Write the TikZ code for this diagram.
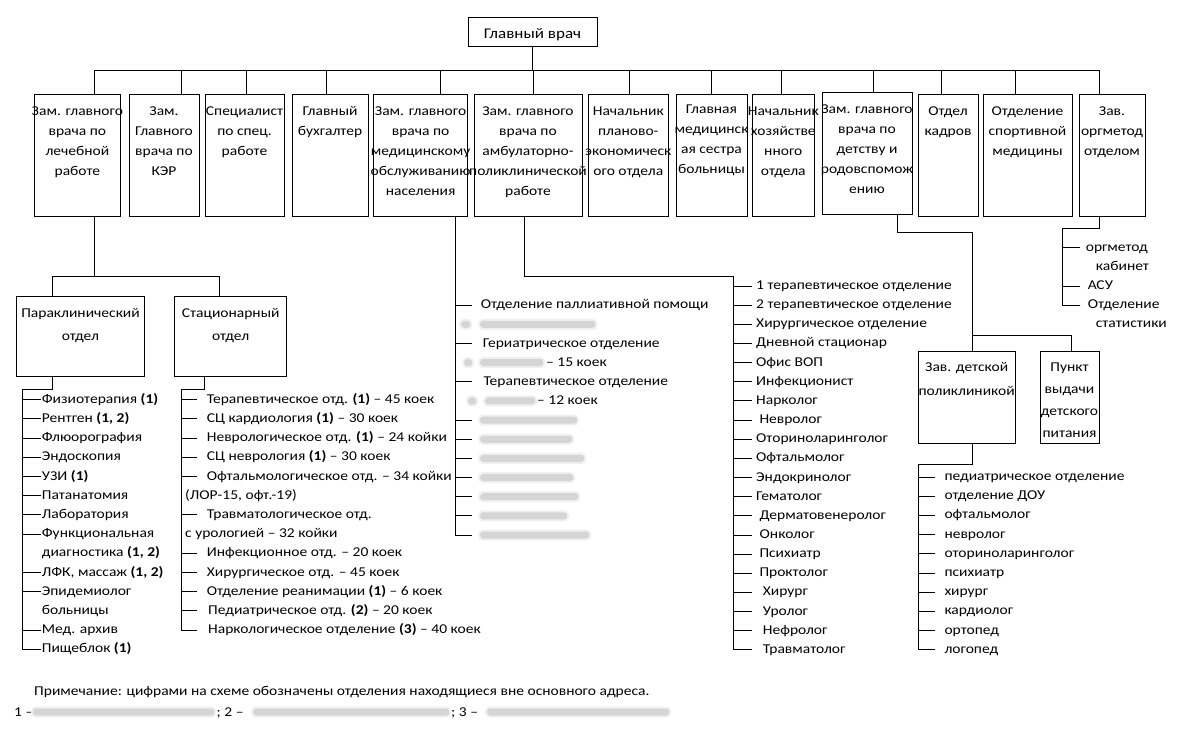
\documentclass[tikz,border=0pt]{standalone}
\usepackage{fontspec}
\setmainfont{Carlito}[FakeStretch=1.15]
\newcommand\bxf[1]{\fontsize{13.5}{#1}\selectfont}
\tikzset{
  conn/.style={draw=black, line width=0.9pt, line cap=rect},
  orgbox/.style={draw=black, line width=0.9pt, rectangle, inner sep=0pt},
  boxtext/.style={anchor=north, inner sep=0pt, align=center, text=black},
  item/.style={anchor=base west, inner sep=0pt, font=\bxf{16}, text=black},
  blurbox/.style={fill=gray!33, rounded corners=3pt, inner sep=0pt, minimum height=7pt,
    preaction={draw=gray!12, line width=4pt, rounded corners=4pt}},
}
% name, x1, y1, x2, y2, first baseline, line skip, text
\newcommand\obox[8]{%
  \node[orgbox, minimum width={(#4-#2)*1pt}, minimum height={(#5-#3)*1pt}] (#1) at ({(#2+#4)/2},{(#3+#5)/2}) {};
  \node[boxtext, font=\bxf{#7}] (#1t) at ({(#2+#4)/2},{#6-12}) {\rule{0pt}{12pt}#8};}
% name, spineX, tickEndX, textX, tickY, text
\newcommand\trow[6]{%
  \node[item, inner xsep={(#4-#3)*1pt}] (#1) at (#3,{#5+3.5}) {#6};
  \draw[conn] (#2,#5) -- (#1.west |- 0,#5);}
% name, textX, tickY, text
\newcommand\prow[4]{\node[item] (#1) at (#2,{#3+3.5}) {#4};}
% name, x1, x2, y
\newcommand\bnode[4]{\node[blurbox, minimum width={(#3-#2)*1pt}, anchor=west] (#1) at (#2,#4) {};}
\begin{document}
\begin{tikzpicture}[x=1pt,y=-1pt]
\useasboundingbox (0,0) rectangle (1194,739);
\fill[white] (0,0) rectangle (1194,739);

% ---- top level ----
\obox{gv}{468}{17.3}{597}{46.7}{38}{20}{\fontsize{14.8}{20}\selectfont Главный врач}
\obox{b1}{34.3}{94}{120.5}{216}{115}{20}{Зам. главного\\врача по\\лечебной\\работе}
\obox{b2}{129}{94}{199}{216}{115}{20}{Зам.\\Главного\\врача по\\КЭР}
\obox{b3}{205}{94}{284}{216}{115}{20}{Специалист\\по спец.\\работе}
\obox{b4}{292}{94}{368}{216}{115}{20}{Главный\\бухгалтер}
\obox{b5}{373.5}{94}{467.7}{216}{115}{20}{Зам. главного\\врача по\\медицинскому\\обслуживанию\\населения}
\obox{b6}{474}{94}{582}{216}{115}{20}{Зам. главного\\врача по\\амбулаторно-\\поликлинической\\работе}
\obox{b7}{588}{94}{668.6}{216}{115}{20}{Начальник\\планово-\\экономическ\\ого отдела}
\obox{b8}{676}{94}{747}{216}{113.5}{20}{Главная\\медицинск\\ая сестра\\больницы}
\obox{b9}{752.6}{94}{814}{216}{115}{20}{Начальник\\хозяйстве\\нного\\отдела}
\obox{b10}{822}{92.3}{912}{214}{113.5}{20}{Зам. главного\\врача по\\детству и\\родовспомож\\ению}
\obox{b11}{918}{94}{978}{216}{115}{20}{Отдел\\кадров}
\obox{b12}{983}{94}{1072}{216}{115}{20}{Отделение\\спортивной\\медицины}
\obox{b13}{1079}{94}{1145}{216}{115}{20}{Зав.\\оргметод\\отделом}

\coordinate (busL) at (94,70.3);
\coordinate (busR) at (1099,70.3);
\draw[conn] (busL) -- (busR);
\draw[conn] (gv.south) -- (gv.south |- busL);
\foreach \b/\x in {b1/94, b2/181, b3/246, b4/326, b5/440, b6/533, b7/629.7, b8/711.7,
  b9/781, b10/873.5, b11/941, b12/1015, b13/1099}
  \draw[conn] (\b.north -| \x,0) -- (\x,70.3);

% ---- second level ----
\obox{para}{16.7}{296.7}{144.3}{376}{317.3}{22.7}{Параклинический\\отдел}
\obox{stac}{174.7}{296.7}{286.7}{376}{317.3}{22.7}{Стационарный\\отдел}
\obox{dp}{918.3}{351.7}{1015}{443.3}{371.7}{23.3}{Зав. детской\\поликлиникой}
\obox{pv}{1040}{351.7}{1099}{443.3}{371.7}{21.7}{Пункт\\выдачи\\детского\\питания}

\draw[conn] (b1.south -| 94,0) -- (94,276);
\draw[conn] (para.north -| 52.7,0) -- (52.7,276) -| (stac.north -| 219,0);

% ---- Параклинический list ----
\trow{pa0}{22.7}{40.5}{41.7}{399.7}{Физиотерапия \textbf{(1)}}
\trow{pa1}{22.7}{40.5}{41.7}{418.9}{Рентген \textbf{(1, 2)}}
\trow{pa2}{22.7}{40.5}{41.7}{438.1}{Флюорография}
\trow{pa3}{22.7}{40.5}{41.7}{457.3}{Эндоскопия}
\trow{pa4}{22.7}{40.5}{41.7}{476.5}{УЗИ \textbf{(1)}}
\trow{pa5}{22.7}{40.5}{41.7}{495.7}{Патанатомия}
\trow{pa6}{22.7}{40.5}{41.7}{514.9}{Лаборатория}
\trow{pa7}{22.7}{40.5}{41.7}{534.1}{Функциональная}
\prow{pa8}{41.7}{553.3}{диагностика \textbf{(1, 2)}}
\trow{pa9}{22.7}{40.5}{41.7}{572.5}{ЛФК, массаж \textbf{(1, 2)}}
\trow{pa10}{22.7}{40.5}{41.7}{591.7}{Эпидемиолог}
\prow{pa11}{41.7}{610.9}{больницы}
\trow{pa12}{22.7}{40.5}{41.7}{630.1}{Мед. архив}
\trow{pa13}{22.7}{40.5}{41.7}{649.3}{Пищеблок \textbf{(1)}}
\draw[conn] (para.south -| 52.7,0) |- (22.7,389.3) |- (pa13.west |- 0,649.3);

% ---- Стационарный list ----
\trow{st0}{181.7}{197}{206.7}{399.7}{Терапевтическое отд. \textbf{(1)} – 45 коек}
\trow{st1}{181.7}{197}{206.7}{418.9}{СЦ кардиология \textbf{(1)} – 30 коек}
\trow{st2}{181.7}{197}{206.7}{438.1}{Неврологическое отд. \textbf{(1)} – 24 койки}
\trow{st3}{181.7}{197}{206.7}{457.3}{СЦ неврология \textbf{(1)} – 30 коек}
\trow{st4}{181.7}{197}{206.7}{476.5}{Офтальмологическое отд. – 34 койки}
\prow{st5}{185}{495.7}{(ЛОР-15, офт.-19)}
\trow{st6}{181.7}{197}{206.7}{514.9}{Травматологическое отд.}
\prow{st7}{185}{534.1}{с урологией – 32 койки}
\trow{st8}{181.7}{197}{206.7}{553.3}{Инфекционное отд. – 20 коек}
\trow{st9}{181.7}{197}{206.7}{572.5}{Хирургическое отд. – 45 коек}
\trow{st10}{181.7}{197}{206.7}{591.7}{Отделение реанимации \textbf{(1)} – 6 коек}
\trow{st11}{181.7}{197}{208}{610.9}{Педиатрическое отд. \textbf{(2)} – 20 коек}
\trow{st12}{181.7}{197}{208}{630.1}{Наркологическое отделение \textbf{(3)} – 40 коек}
\draw[conn] (stac.south -| 204.7,0) |- (181.7,389.3) |- (st12.west |- 0,630.1);

% ---- медицинское обслуживание list ----
\trow{m0}{455}{471.7}{480.7}{305.2}{Отделение паллиативной помощи}
\bnode{m1a}{461}{470}{324.35}
\bnode{m1}{480}{595}{324.35}
\trow{m2}{455}{471.7}{482.7}{343.5}{Гериатрическое отделение}
\bnode{m3a}{464}{472}{362.65}
\bnode{m3b}{480}{543}{362.65}
\prow{m3}{546}{362.65}{– 15 коек}
\trow{m4}{455}{471.7}{483.3}{381.8}{Терапевтическое отделение}
\bnode{m5a}{468}{476}{400.95}
\bnode{m5b}{485}{535}{400.95}
\prow{m5}{537}{400.95}{– 12 коек}
\foreach \n/\xe/\y in {6/577/420.1, 7/572/439.25, 8/584/458.4, 9/573/477.55,
  10/578/496.7, 11/567/515.85, 12/589/535}{
  \bnode{m\n}{480}{\xe}{\y}
  \draw[conn] (455,\y) -- ([xshift=-8.3pt]m\n.west);
}
\draw[conn] (b5.south -| 455,0) |- ([xshift=-8.3pt]m12.west);

% ---- амбулаторно-поликлиническая list ----
\draw[conn] (b6.south -| 524,0) |- (733.3,276.7);
\trow{q0}{733.3}{751.7}{756}{286}{1 терапевтическое отделение}
\trow{q1}{733.3}{751.7}{756}{305.15}{2 терапевтическое отделение}
\trow{q2}{733.3}{751.7}{756}{324.3}{Хирургическое отделение}
\trow{q3}{733.3}{751.7}{756}{343.45}{Дневной стационар}
\trow{q4}{733.3}{751.7}{756}{362.6}{Офис ВОП}
\trow{q5}{733.3}{751.7}{756}{381.75}{Инфекционист}
\trow{q6}{733.3}{751.7}{756}{400.9}{Нарколог}
\trow{q7}{733.3}{751.7}{759.3}{420.05}{Невролог}
\trow{q8}{733.3}{751.7}{756}{439.2}{Оториноларинголог}
\trow{q9}{733.3}{751.7}{756}{458.35}{Офтальмолог}
\trow{q10}{733.3}{751.7}{756}{477.5}{Эндокринолог}
\trow{q11}{733.3}{751.7}{756}{496.65}{Гематолог}
\trow{q12}{733.3}{751.7}{759.3}{515.8}{Дерматовенеролог}
\trow{q13}{733.3}{751.7}{759.5}{534.95}{Онколог}
\trow{q14}{733.3}{751.7}{759.3}{554.1}{Психиатр}
\trow{q15}{733.3}{751.7}{759.3}{573.25}{Проктолог}
\trow{q16}{733.3}{751.7}{762.7}{592.4}{Хирург}
\trow{q17}{733.3}{751.7}{762.7}{611.55}{Уролог}
\trow{q18}{733.3}{751.7}{762.7}{630.7}{Нефролог}
\trow{q19}{733.3}{751.7}{762.7}{649.85}{Травматолог}
\draw[conn] (733.3,276.7) |- (q19.west |- 0,649.85);

% ---- детство list ----
\draw[conn] (b10.south -| 897,0) |- (972.3,232.7) -- (dp.north -| 972.3,0);
\draw[conn] (972.3,335) -| (pv.north -| 1071.7,0);
\trow{c0}{918.3}{935}{944.3}{477}{педиатрическое отделение}
\trow{c1}{918.3}{935}{944.3}{496.2}{отделение ДОУ}
\trow{c2}{918.3}{935}{944.3}{515.4}{офтальмолог}
\trow{c3}{918.3}{935}{944.3}{534.6}{невролог}
\trow{c4}{918.3}{935}{944.3}{553.8}{оториноларинголог}
\trow{c5}{918.3}{935}{944.3}{573}{психиатр}
\trow{c6}{918.3}{935}{944.3}{592.2}{хирург}
\trow{c7}{918.3}{935}{944.3}{611.4}{кардиолог}
\trow{c8}{918.3}{935}{944.3}{630.6}{ортопед}
\trow{c9}{918.3}{935}{944.3}{649.8}{логопед}
\draw[conn] (dp.south -| 972.3,0) |- (918.3,464) |- (c9.west |- 0,649.8);

% ---- оргметод list ----
\trow{o0}{1062.3}{1080}{1085.7}{247.7}{оргметод}
\prow{o1}{1095.7}{266.85}{кабинет}
\trow{o2}{1062.3}{1080}{1087.7}{286}{АСУ}
\trow{o3}{1062.3}{1080}{1087.7}{305.15}{Отделение}
\prow{o4}{1095.7}{324.3}{статистики}
\draw[conn] (b13.south -| 1099,0) |- (1062.3,228.7) |- (o3.west |- 0,305.15);

% ---- footnote ----
\node[item] (note) at (34,695) {Примечание: цифрами на схеме обозначены отделения находящиеся вне основного адреса.};
\node[item] (f1) at (14,716) {1 –};
\bnode{fb1}{33}{214}{712}
\node[item] (f2) at (216.5,716) {; 2 –};
\bnode{fb2}{253}{449}{712}
\node[item] (f3) at (451,716) {; 3 –};
\bnode{fb3}{487}{669}{712}
\end{tikzpicture}
\end{document}
